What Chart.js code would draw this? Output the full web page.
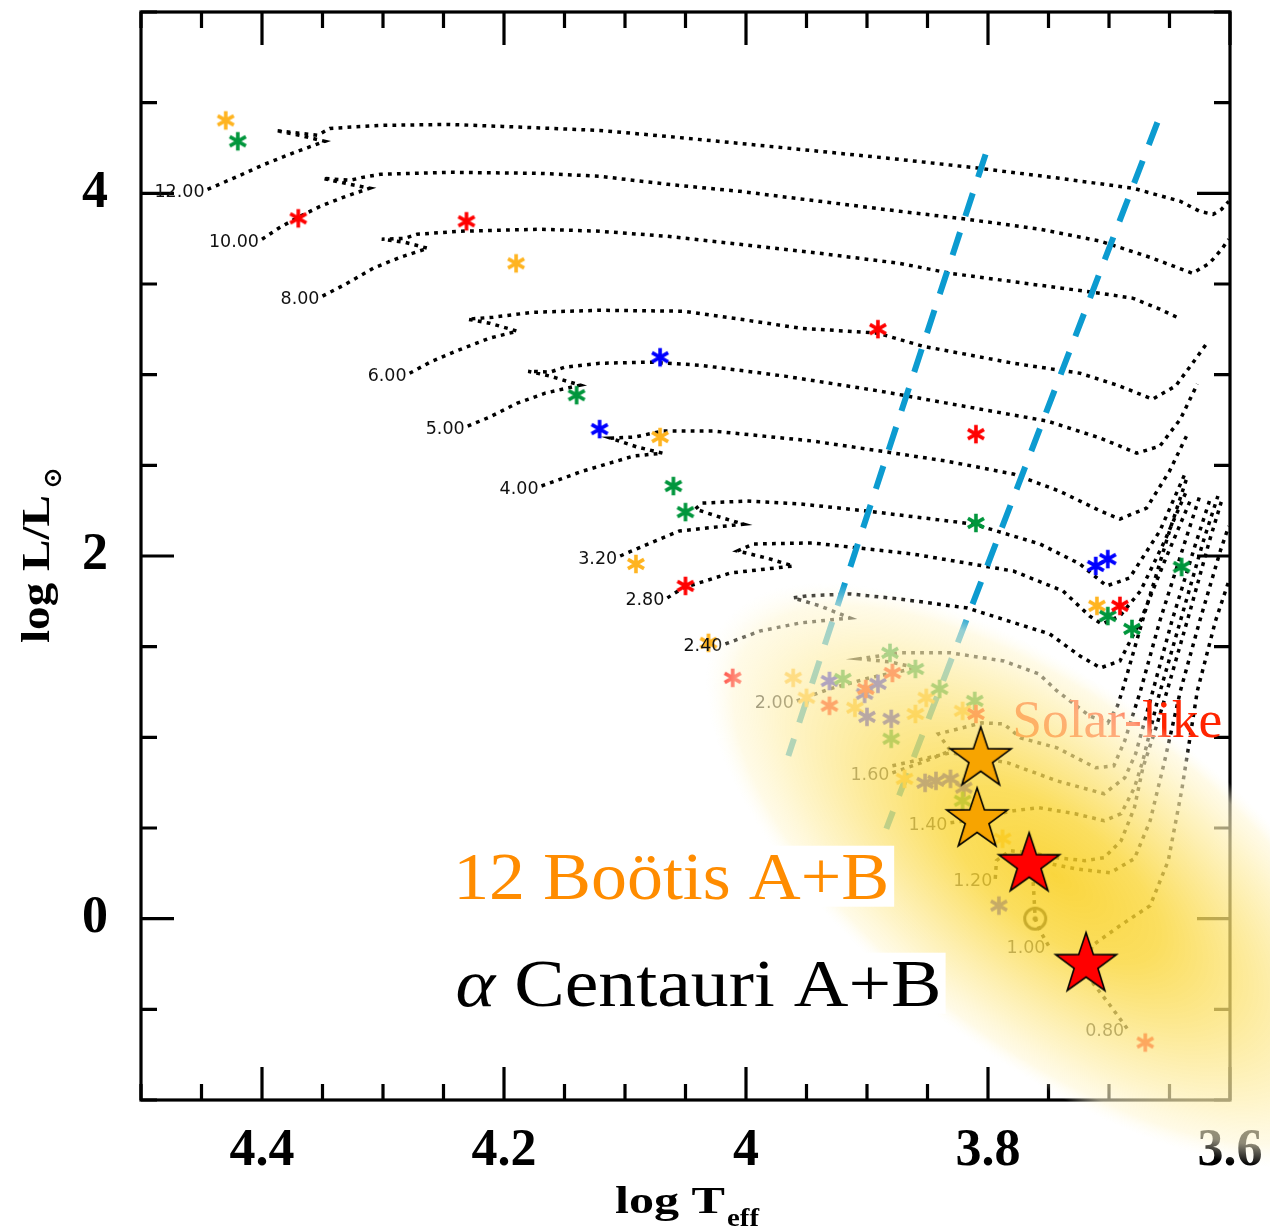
<!DOCTYPE html>
<html><head><meta charset="utf-8">
<script src="https://cdn.jsdelivr.net/npm/chart.js@4.4.1/dist/chart.umd.min.js"></script>
<style>html,body{margin:0;padding:0;background:#fff;}canvas{display:block;}</style>
</head><body>
<canvas id="c" width="1270" height="1231"></canvas>
<script>
// ---------------- DATA ----------------
const xTickValues = [4.4, 4.2, 4.0, 3.8, 3.6];
const xTickLabels = ['4.4', '4.2', '4', '3.8', '3.6'];
const yTickValues = [0, 2, 4];
const yTickLabels = ['0', '2', '4'];

const massLabels = ['12.00','10.00','8.00','6.00','5.00','4.00','3.20','2.80','2.40','2.00','1.60','','1.40','1.20','1.00','0.80'];

const trk1200T = [4.445,4.422,4.398,4.373,4.348,4.369,4.389,4.354,4.344,4.302,4.245,4.201,4.121,4.065,4.005,3.947,3.873,3.807,3.741,3.680,3.641,3.625,3.614,3.607,3.601];
const trk1200L = [4.022,4.088,4.160,4.226,4.287,4.320,4.347,4.320,4.358,4.375,4.380,4.369,4.347,4.314,4.275,4.237,4.187,4.138,4.083,4.028,3.956,3.901,3.884,3.912,3.956];
const trk1000T = [4.400,4.385,4.370,4.352,4.331,4.311,4.331,4.350,4.327,4.317,4.302,4.245,4.170,4.121,4.065,4.005,3.939,3.873,3.817,3.757,3.707,3.666,3.631,3.617,3.607,3.601];
const trk1000L = [3.747,3.813,3.868,3.928,3.983,4.028,4.055,4.083,4.072,4.088,4.105,4.116,4.110,4.094,4.050,4.011,3.956,3.901,3.857,3.802,3.736,3.647,3.559,3.614,3.691,3.747];
const trk800T = [4.350,4.331,4.308,4.286,4.263,4.282,4.301,4.282,4.272,4.236,4.170,4.121,4.065,4.005,3.939,3.873,3.831,3.757,3.707,3.680,3.658,3.644];
const trk800L = [3.433,3.499,3.587,3.647,3.697,3.730,3.747,3.752,3.774,3.791,3.802,3.791,3.763,3.719,3.669,3.614,3.559,3.493,3.449,3.421,3.361,3.317];
const trk600T = [4.278,4.261,4.240,4.212,4.189,4.212,4.230,4.209,4.176,4.121,4.052,4.005,3.955,3.891,3.854,3.779,3.724,3.691,3.664,3.645,3.631,3.619];
const trk600L = [3.008,3.069,3.129,3.201,3.240,3.284,3.306,3.317,3.344,3.355,3.350,3.306,3.256,3.229,3.157,3.063,3.008,2.937,2.865,2.937,3.063,3.174];
const trk500T = [4.230,4.212,4.189,4.166,4.137,4.162,4.180,4.162,4.150,4.121,4.079,4.038,3.968,3.889,3.834,3.751,3.707,3.677,3.658,3.641,3.627];
const trk500L = [2.716,2.766,2.843,2.898,2.942,2.992,3.019,3.014,3.041,3.063,3.069,3.052,2.992,2.909,2.843,2.744,2.650,2.567,2.606,2.755,2.948];
const trk400T = [4.169,4.135,4.093,4.069,4.090,4.112,4.092,4.069,4.027,3.945,3.889,3.834,3.779,3.741,3.707,3.691,3.669,3.650,3.636];
const trk400L = [2.386,2.468,2.551,2.567,2.601,2.650,2.656,2.689,2.689,2.634,2.579,2.523,2.452,2.358,2.248,2.204,2.264,2.468,2.661];
const trk320T = [4.104,4.079,4.055,4.002,4.019,4.042,4.036,3.999,3.955,3.900,3.812,3.757,3.724,3.702,3.683,3.658,3.637];
const trk320L = [2.000,2.072,2.138,2.176,2.209,2.259,2.292,2.303,2.287,2.248,2.176,2.066,1.956,1.835,1.879,2.138,2.457];
const trk280T = [4.065,4.052,4.013,3.961,3.983,4.007,3.994,3.945,3.862,3.779,3.738,3.716,3.706,3.691,3.674,3.654,3.636];
const trk280L = [1.769,1.824,1.906,1.945,1.989,2.028,2.066,2.072,2.011,1.917,1.807,1.669,1.625,1.669,1.807,2.083,2.358];
const trk240T = [4.017,3.988,3.955,3.914,3.939,3.961,3.950,3.914,3.873,3.817,3.749,3.724,3.707,3.691,3.674,3.654,3.633];
const trk240L = [1.515,1.587,1.631,1.658,1.725,1.769,1.780,1.791,1.763,1.713,1.570,1.449,1.383,1.421,1.642,1.972,2.303];
const trk200T = [3.958,3.931,3.898,3.859,3.881,3.906,3.873,3.831,3.787,3.758,3.743,3.716,3.701,3.693,3.689,3.670,3.650,3.636];
const trk200L = [1.201,1.267,1.328,1.383,1.416,1.433,1.466,1.466,1.421,1.350,1.256,1.118,1.080,1.174,1.256,1.697,2.138,2.424];
const trk160T = [3.879,3.855,3.831,3.841,3.805,3.787,3.773,3.743,3.711,3.696,3.687,3.674,3.658,3.637,3.625];
const trk160L = [0.804,0.860,0.926,1.019,1.080,1.074,0.997,0.942,0.832,0.843,0.981,1.256,1.642,2.083,2.331];
const trk150T = [3.879,3.831,3.784,3.743,3.704,3.687,3.678,3.666,3.648,3.629,3.617];
const trk150L = [0.843,0.915,0.860,0.760,0.689,0.777,0.909,1.201,1.642,2.055,2.303];
const trk140T = [3.831,3.808,3.787,3.779,3.758,3.728,3.704,3.690,3.679,3.672,3.660,3.641,3.622,3.610];
const trk140L = [0.529,0.551,0.584,0.595,0.612,0.579,0.540,0.579,0.722,0.871,1.201,1.642,2.083,2.331];
const trk120T = [3.794,3.793,3.782,3.765,3.743,3.720,3.704,3.690,3.679,3.672,3.662,3.652,3.633,3.617,3.607];
const trk120L = [0.220,0.320,0.375,0.364,0.336,0.320,0.336,0.430,0.612,0.832,1.036,1.256,1.697,2.083,2.303];
const trk100T = [3.750,3.757,3.761,3.762,3.763,3.753,3.728,3.699,3.679,3.666,3.654,3.641,3.625,3.608,3.601];
const trk100L = [-0.149,-0.066,0.000,0.127,0.237,0.309,0.275,0.253,0.331,0.540,0.871,1.256,1.642,2.028,2.165];
const trk080T = [3.685,3.699,3.713,3.717,3.714,3.691,3.666,3.651,3.640,3.627,3.612,3.601];
const trk080L = [-0.606,-0.479,-0.358,-0.259,-0.149,-0.039,0.072,0.320,0.705,1.256,1.642,1.862];

const asteriskT = [4.430,4.420,4.370,4.231,4.190,3.891,4.071,4.140,4.121,4.071,3.810,4.060,4.050,3.810,4.091,4.050,3.711,3.701,3.640,3.710,3.701,3.691,3.681,4.031,4.011,
  3.961,3.931,3.920,3.931,3.910,3.902,3.901,3.891,3.900,3.879,3.881,3.860,3.851,3.840,3.880,3.880,3.860,3.811,3.821,3.810,3.950,3.869,3.852,3.843,3.831,3.820,3.821,3.788,3.791,3.670];
const asteriskL = [4.402,4.287,3.862,3.846,3.614,3.251,3.096,2.887,2.700,2.656,2.672,2.386,2.242,2.182,1.956,1.835,1.945,1.983,1.939,1.725,1.669,1.725,1.598,1.521,1.328,
  1.328,1.311,1.322,1.174,1.163,1.240,1.267,1.295,1.113,1.355,1.466,1.377,1.218,1.267,1.102,0.992,1.129,1.201,1.146,1.129,1.218,0.771,0.749,0.760,0.771,0.722,0.650,0.441,0.072,-0.683];
const asteriskKind = ['orange','green','red','red','orange','red','blue','green','blue','orange','red','green','green','green','orange','red','blue','blue','green','orange','green','red','green','orange','red',
  'orange','blue','green','red','orange','blue','red','blue','blue','red','green','green','orange','green','blue','green','orange','green','orange','red','orange','orange','blue','blue','blue','blue','green','orange','blue','red'];

const bigStarT = [3.806, 3.809, 3.766, 3.719];
const bigStarL = [0.882, 0.545, 0.298, -0.253];
const bigStarKind = ['12boo', '12boo', 'acen', 'acen'];

const sunT = [3.761];
const sunL = [0.0];

const strip1T = [3.802, 3.965];
const strip1L = [4.215, 0.898];
const strip2T = [3.660, 3.884];
const strip2L = [4.391, 0.496];

// ---------------- STYLE / LAYOUT ----------------
const asteriskColors = {orange:'#ffb420', green:'#00963c', red:'#ff0000', blue:'#0000ff'};
const bigStarColors = {'12boo':'#f7a400', 'acen':'#ff0000'};
const blob = {center:[3.745, 0.24], majorEnd:[4.018, 1.64], minorEnd:[3.652, 1.04]};
const notes = {
  solar: {T:3.780, L:1.003, width:210},
  boo:   {T:4.242, L:0.110, width:436},
  acen:  {T:4.240, L:-0.480, width:486}
};

const trackT = [trk1200T,trk1000T,trk800T,trk600T,trk500T,trk400T,trk320T,trk280T,trk240T,trk200T,trk160T,trk150T,trk140T,trk120T,trk100T,trk080T];
const trackL = [trk1200L,trk1000L,trk800L,trk600L,trk500L,trk400L,trk320L,trk280L,trk240L,trk200L,trk160L,trk150L,trk140L,trk120L,trk100L,trk080L];

function pts(T, L){ return T.map((t,i)=>({x:t, y:L[i]})); }

function asteriskCanvas(color){
  const c=document.createElement('canvas'); c.width=22; c.height=22;
  const g=c.getContext('2d'); g.strokeStyle=color; g.lineWidth=3.6; g.lineCap='butt';
  g.beginPath();
  for (const a of [90,30,150]) { const r=a*Math.PI/180;
    g.moveTo(11+9.3*Math.cos(r),11-9.3*Math.sin(r)); g.lineTo(11-9.3*Math.cos(r),11+9.3*Math.sin(r)); }
  g.stroke(); return c;
}
function starCanvas(fill){
  const s=76, c=document.createElement('canvas'); c.width=s; c.height=s;
  const g=c.getContext('2d'); const R=32, r=R*0.39;
  g.beginPath();
  for (let i=0;i<10;i++){ const rr=i%2?r:R; const a=-Math.PI/2+i*Math.PI/5;
    const px=s/2+rr*Math.cos(a), py=s/2+rr*Math.sin(a); if(i) g.lineTo(px,py); else g.moveTo(px,py); }
  g.closePath(); g.fillStyle=fill; g.fill(); g.lineWidth=1.6; g.strokeStyle='#000'; g.stroke(); return c;
}
function sunCanvas(){
  const c=document.createElement('canvas'); c.width=30; c.height=30;
  const g=c.getContext('2d'); g.strokeStyle='#000'; g.lineWidth=3;
  g.beginPath(); g.arc(15,15,10.5,0,2*Math.PI); g.stroke();
  g.fillStyle='#000'; g.beginPath(); g.arc(15,15,2.6,0,2*Math.PI); g.fill(); return c;
}
const astImgs = {}; for (const k in asteriskColors) astImgs[k]=asteriskCanvas(asteriskColors[k]);
const starImgs = {}; for (const k in bigStarColors) starImgs[k]=starCanvas(bigStarColors[k]);

const datasets = [];
trackT.forEach((T,i)=>{
  datasets.push({data:pts(T,trackL[i]), showLine:true, borderColor:'#000', borderWidth:3.5, borderDash:[3.8,5.2],
    borderCapStyle:'butt', pointRadius:0, fill:false, tension:0, order:3, _role:'track'});
});
[[strip1T,strip1L],[strip2T,strip2L]].forEach(([T,L])=>{
  datasets.push({data:pts(T,L), showLine:true, borderColor:'#0c9bd0', borderWidth:6, borderDash:[24,17],
    borderCapStyle:'butt', pointRadius:0, fill:false, order:2, _role:'strip'});
});
datasets.push({data:pts(asteriskT,asteriskL), showLine:false, pointStyle:asteriskKind.map(k=>astImgs[k]),
  pointRadius:1, order:1, _role:'asterisk'});
datasets.push({data:pts(sunT,sunL), showLine:false, pointStyle:sunCanvas(), pointRadius:1, order:1, _role:'sun'});
datasets.push({data:pts(bigStarT,bigStarL), showLine:false, pointStyle:bigStarKind.map(k=>starImgs[k]),
  pointRadius:1, order:0, _role:'bigstars'});

function fitText(ctx, txt, x, y, w){
  const m=ctx.measureText(txt).width; ctx.save(); ctx.translate(x,y); ctx.scale(w/m,1); ctx.fillText(txt,0,0); ctx.restore();
}

function drawFrame(chart){
  const {ctx, chartArea:a} = chart; const xs=chart.scales.x, ys=chart.scales.y;
  ctx.save(); ctx.strokeStyle='#000'; ctx.lineWidth=3.2; ctx.lineCap='butt';
  ctx.strokeRect(a.left, a.top, a.right-a.left, a.bottom-a.top);
  ctx.beginPath();
  for (let k=0;k<=18;k++){ const v=3.6+k*0.05; const major=(k%4===0); const len=major?33:16;
    const px=xs.getPixelForValue(v);
    ctx.moveTo(px,a.bottom); ctx.lineTo(px,a.bottom-len); ctx.moveTo(px,a.top); ctx.lineTo(px,a.top+len); }
  for (let k=0;k<=12;k++){ const v=-1+k*0.5; const major=(Math.abs(v%2)<1e-9); const len=major?33:16;
    const py=ys.getPixelForValue(v);
    ctx.moveTo(a.left,py); ctx.lineTo(a.left+len,py); ctx.moveTo(a.right,py); ctx.lineTo(a.right-len,py); }
  ctx.stroke(); ctx.restore();
}

function drawTitles(chart){
  const ctx=chart.ctx; ctx.save(); ctx.fillStyle='#000'; ctx.textBaseline='alphabetic'; ctx.textAlign='left';
  ctx.font='bold 38px "Liberation Serif"'; fitText(ctx,'log T',615,1213,110);
  ctx.font='bold 25px "Liberation Serif"'; fitText(ctx,'eff',727,1226,32);
  ctx.translate(49,643); ctx.rotate(-Math.PI/2);
  ctx.font='bold 40px "Liberation Serif"'; fitText(ctx,'log L/L',0,0,148);
  ctx.strokeStyle='#000'; ctx.lineWidth=2.4; ctx.beginPath(); ctx.arc(165,4,7,0,2*Math.PI); ctx.stroke();
  ctx.beginPath(); ctx.arc(165,4,2,0,2*Math.PI); ctx.fill();
  ctx.restore();
}

function drawMassLabels(chart){
  const ctx=chart.ctx, xs=chart.scales.x, ys=chart.scales.y;
  ctx.save(); ctx.font='17.5px "DejaVu Sans"'; ctx.fillStyle='#111'; ctx.textAlign='right'; ctx.textBaseline='middle';
  trackT.forEach((T,i)=>{ if(!massLabels[i]) return;
    const px=xs.getPixelForValue(T[0]), py=ys.getPixelForValue(trackL[i][0]);
    ctx.fillText(massLabels[i], px-3, py+3); });
  ctx.restore();
}

function drawSolar(chart){
  const ctx=chart.ctx, xs=chart.scales.x, ys=chart.scales.y, n=notes.solar;
  ctx.save(); ctx.font='53px "Liberation Serif"'; ctx.fillStyle='#ff2400'; ctx.textAlign='left'; ctx.textBaseline='alphabetic';
  fitText(ctx,'Solar-like',xs.getPixelForValue(n.T),ys.getPixelForValue(n.L),n.width); ctx.restore();
}

function drawBlob(chart){
  const ctx=chart.ctx, xs=chart.scales.x, ys=chart.scales.y;
  const c=[xs.getPixelForValue(blob.center[0]), ys.getPixelForValue(blob.center[1])];
  const a=[xs.getPixelForValue(blob.majorEnd[0]), ys.getPixelForValue(blob.majorEnd[1])];
  const b=[xs.getPixelForValue(blob.minorEnd[0]), ys.getPixelForValue(blob.minorEnd[1])];
  const ra=Math.hypot(a[0]-c[0],a[1]-c[1]), rb=Math.hypot(b[0]-c[0],b[1]-c[1]);
  const ang=Math.atan2(c[1]-a[1], c[0]-a[0]);
  ctx.save(); ctx.translate(c[0],c[1]); ctx.rotate(ang); ctx.scale(1, rb/ra);
  const g=ctx.createRadialGradient(0,0,0,0,0,ra);
  g.addColorStop(0.00,'rgba(249,207,30,0.86)');
  g.addColorStop(0.30,'rgba(250,214,55,0.80)');
  g.addColorStop(0.55,'rgba(252,227,118,0.74)');
  g.addColorStop(0.78,'rgba(254,240,178,0.68)');
  g.addColorStop(0.92,'rgba(255,247,212,0.56)');
  g.addColorStop(1.00,'rgba(255,252,235,0)');
  ctx.fillStyle=g; ctx.beginPath(); ctx.arc(0,0,ra,0,2*Math.PI); ctx.fill(); ctx.restore();
}

function drawLegendTexts(chart){
  const ctx=chart.ctx, xs=chart.scales.x, ys=chart.scales.y;
  ctx.save(); ctx.textAlign='left'; ctx.textBaseline='alphabetic';
  let n=notes.boo, x=xs.getPixelForValue(n.T), y=ys.getPixelForValue(n.L);
  ctx.fillStyle='#fff'; ctx.fillRect(x-6, y-53, n.width+11, 61);
  ctx.font='68px "Liberation Serif"'; ctx.fillStyle='#ff8c00'; fitText(ctx,'12 Boötis A+B',x,y,n.width);
  n=notes.acen; x=xs.getPixelForValue(n.T); y=ys.getPixelForValue(n.L);
  ctx.fillStyle='#fff'; ctx.fillRect(x-8, y-53, n.width+12, 61);
  ctx.font='italic 68px "Liberation Serif"'; const wa=ctx.measureText('α').width;
  ctx.font='68px "Liberation Serif"'; const wr=ctx.measureText(' Centauri A+B').width;
  const s=n.width/(wa+wr);
  ctx.fillStyle='#000';
  ctx.save(); ctx.translate(x,y); ctx.scale(s,1);
  ctx.font='italic 68px "Liberation Serif"'; ctx.fillText('α',0,0);
  ctx.font='68px "Liberation Serif"'; ctx.fillText(' Centauri A+B',wa,0);
  ctx.restore();
  ctx.restore();
}

const hrPlugin = {
  id:'hr',
  beforeDatasetsDraw(chart){ drawFrame(chart); drawTitles(chart); },
  beforeDatasetDraw(chart,args){
    if (chart.data.datasets[args.index]._role==='bigstars'){ drawMassLabels(chart); drawSolar(chart); drawBlob(chart); }
  },
  afterDatasetsDraw(chart){ drawLegendTexts(chart); }
};

new Chart(document.getElementById('c'), {
  type:'scatter',
  data:{datasets},
  options:{
    responsive:false, animation:false, devicePixelRatio:1, events:[],
    layout:{padding:{left:0,right:40,top:12,bottom:0}},
    plugins:{legend:{display:false}, tooltip:{enabled:false}},
    scales:{
      x:{type:'linear', min:3.6, max:4.5, reverse:true,
        afterBuildTicks:s=>{ s.ticks=xTickValues.map(v=>({value:v})); },
        afterFit:s=>{ s.height=131; s.paddingLeft=0; s.paddingRight=0; s.paddingTop=0; s.paddingBottom=0; },
        grid:{display:false, drawTicks:false}, border:{display:false},
        ticks:{autoSkip:false, maxRotation:0, padding:20, color:'#000',
          font:{family:'Liberation Serif', weight:'bold', size:52},
          callback:(v,i)=>xTickLabels[i]}},
      y:{type:'linear', min:-1, max:5,
        afterBuildTicks:s=>{ s.ticks=yTickValues.map(v=>({value:v})); },
        afterFit:s=>{ s.width=141; s.paddingLeft=0; s.paddingRight=0; s.paddingTop=0; s.paddingBottom=0; },
        grid:{display:false, drawTicks:false}, border:{display:false},
        ticks:{autoSkip:false, padding:33, color:'#000',
          font:{family:'Liberation Serif', weight:'bold', size:52},
          callback:(v,i)=>yTickLabels[i]}}
    }
  },
  plugins:[hrPlugin]
});
</script>
</body></html>
